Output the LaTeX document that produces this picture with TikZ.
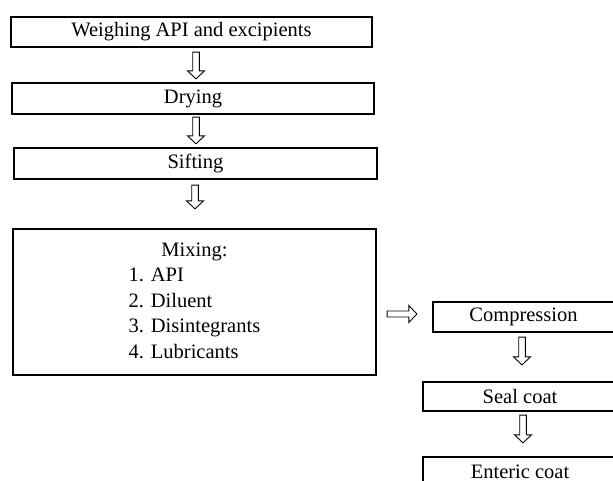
\documentclass[tikz,border=0pt]{standalone}
\usepackage{fontspec}
\setmainfont{Liberation Serif}
\usetikzlibrary{calc}
\tikzset{
  box/.style={draw, line width=1.3pt, inner sep=0pt, anchor=center,
    font=\fontsize{20.5}{25.5}\selectfont},
  harrow/.style={draw, line width=0.9pt, line join=miter}
}
\newcommand\hdown[2]{\draw[harrow] let \p1=#1, \p2=#2 in
  (\x1-3.3pt,\y1) -- (\x1-3.3pt,\y2+8pt) -- (\x1-8.5pt,\y2+8pt) -- (\x1,\y2)
  -- (\x1+8.5pt,\y2+8pt) -- (\x1+3.3pt,\y2+8pt) -- (\x1+3.3pt,\y1) -- cycle;}
\newcommand\hright[2]{\draw[harrow] let \p1=#1, \p2=#2 in
  (\x1,\y1+3pt) -- (\x2-8pt,\y1+3pt) -- (\x2-8pt,\y1+8.5pt) -- (\x2,\y1)
  -- (\x2-8pt,\y1-8.5pt) -- (\x2-8pt,\y1-3pt) -- (\x1,\y1-3pt) -- cycle;}
\begin{document}
\begin{tikzpicture}[x=1pt,y=-1pt]
\useasboundingbox (0,0) rectangle (613,481);
\node[box, minimum width=361pt, minimum height=30pt] (weigh) at (191.5,32) {Weighing API and excipients};
\node[box, minimum width=362pt, minimum height=31pt] (dry) at (193,98.5) {Drying};
\node[box, minimum width=363pt, minimum height=31pt] (sift) at (195.5,163.5) {Sifting};
\node[box, minimum width=363pt, minimum height=146pt] (mix) at (194.5,302)
  {\begin{tabular}{@{}l@{}}\multicolumn{1}{@{}c@{}}{Mixing:}\\1. API\\2. Diluent\\3. Disintegrants\\4. Lubricants\end{tabular}};
\node[box, minimum width=181pt, minimum height=30pt] (comp) at (523.5,317) {Compression};
\node[box, minimum width=194pt, minimum height=29pt] (seal) at (520,396.5) {Seal coat};
\node[box, minimum width=194pt, minimum height=30pt] (enteric) at (520,472) {Enteric coat};
\hdown{($(weigh.south)+(4.5,4.5)$)}{($(dry.north)+(4.5,-3.5)$)}
\hdown{($(dry.south)+(3,2.5)$)}{($(sift.north)+(3,-3.5)$)}
\hdown{($(sift.south)+(-0.5,5.5)$)}{($(mix.north)+(-0.5,-19.5)$)}
\hright{($(mix.east)+(10.5,12)$)}{($(comp.west)+(-15.5,-3)$)}
\hdown{($(comp.south)+(-1.5,4.5)$)}{($(seal.north)+(2,-16.5)$)}
\hdown{($(seal.south)+(3,3.5)$)}{($(enteric.north)+(3,-13.5)$)}
\end{tikzpicture}
\end{document}
